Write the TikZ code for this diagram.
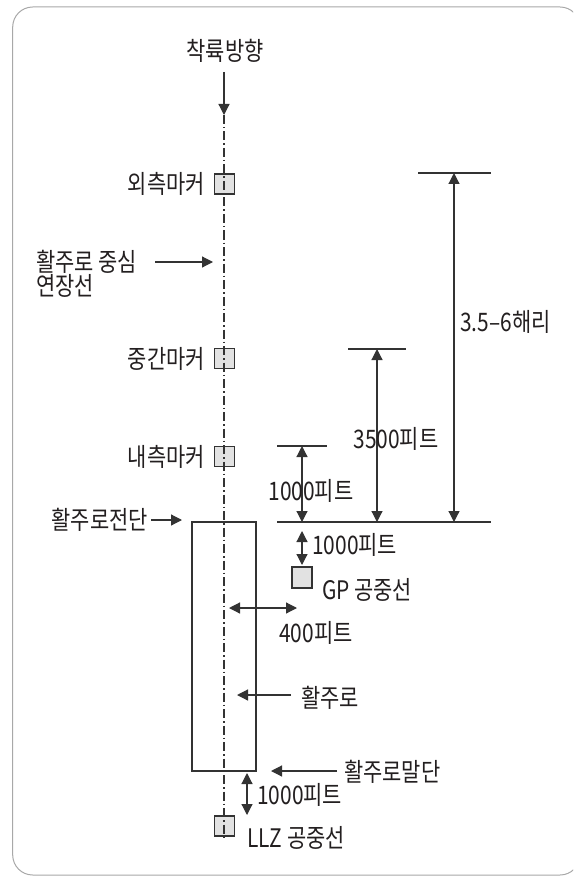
\documentclass[tikz,border=0pt]{standalone}
\usepackage{fontspec}
\setmainfont{Noto Sans CJK KR}[FakeStretch=0.82]
\usetikzlibrary{arrows.meta}
\definecolor{ink}{HTML}{231F20}
\definecolor{ln}{HTML}{333333}
\definecolor{framec}{HTML}{A8A8A8}
\definecolor{mfill}{HTML}{E2E2E2}
\begin{document}
\begin{tikzpicture}[x=1pt,y=-1pt,
  lbl/.style={inner sep=0pt, text=ink, font=\fontsize{25.5}{28}\selectfont},
  mk/.style={draw=ln, fill=mfill, line width=1.1pt, minimum width=20pt, minimum height=20pt, inner sep=0pt},
  arr/.style={draw=ln, line width=1.2pt, -{Triangle[length=11pt,width=11pt]}},
  darr/.style={draw=ln, line width=1.2pt, {Triangle[length=11pt,width=11pt]}-{Triangle[length=11pt,width=11pt]}},
  bar/.style={draw=ln, line width=1.3pt},
  cline/.style={draw=ln, line width=1.2pt, dash pattern=on 9pt off 3pt on 1.5pt off 3pt}]
\useasboundingbox (0,0) rectangle (573,877);
\begin{scope}
\clip (0,0) rectangle (573,877);
\draw[framec, line width=1pt, rounded corners=20pt] (12.7,7) rectangle (580,875);
\end{scope}

% landing direction
\node[lbl] (dir) at (225,51) {착륙방향};
\coordinate (dirS) at (224,72);
\coordinate (clT) at (224,115);
\coordinate (clB) at (224,837);
\draw[arr] (dirS) -- (clT);

% markers
\node[mk] (om) at (224.5,184) {};
\node[lbl, anchor=east] (omL) at (205,184) {외측마커};
\node[mk] (mm) at (224.5,358.5) {};
\node[lbl, anchor=east] (mmL) at (205,358.5) {중간마커};
\node[mk] (im) at (224.5,456.5) {};
\node[lbl, anchor=east] (imL) at (205,456.5) {내측마커};
\node[mk] (llz) at (224.5,826) {};
\node[lbl, anchor=west] (llzL) at (247,838) {LLZ 공중선};

% runway
\node[draw=ln, line width=1.1pt, minimum width=64pt, minimum height=249pt, inner sep=0pt] (rwy) at (224,646.5) {};

% centre line
\draw[cline] (clT) -- (clB);

% extended centre line label
\node[lbl, anchor=west] (ext1) at (36,262) {활주로 중심};
\node[lbl, anchor=west] (ext2) at (36,286) {연장선};
\coordinate (extS) at (155,262);
\coordinate (extE) at (213,262);
\draw[arr] (extS) -- (extE);

% threshold
\node[lbl, anchor=east] (thrL) at (148,520) {활주로전단};
\coordinate (thrS) at (151,520);
\coordinate (thrE) at (182,520);
\draw[arr] (thrS) -- (thrE);

% dimension lines
\coordinate (baseL) at (277,522);
\coordinate (baseR) at (491,522);
\draw[bar] (baseL) -- (baseR);

\coordinate (b1L) at (277,446);
\coordinate (b1R) at (327,446);
\draw[bar] (b1L) -- (b1R);
\coordinate (a1T) at (302,446);
\coordinate (a1B) at (302,522);
\draw[darr] (a1T) -- (a1B);
\node[lbl] (d1) at (311,491) {1000피트};

\coordinate (b2L) at (348,349);
\coordinate (b2R) at (406,349);
\draw[bar] (b2L) -- (b2R);
\coordinate (a2T) at (377,349);
\coordinate (a2B) at (377,522);
\draw[darr] (a2T) -- (a2B);
\node[lbl] (d2) at (396,439) {3500피트};

\coordinate (b3L) at (418,173);
\coordinate (b3R) at (491,173);
\draw[bar] (b3L) -- (b3R);
\coordinate (a3T) at (454,173);
\coordinate (a3B) at (454,522);
\draw[darr] (a3T) -- (a3B);
\node[lbl, anchor=west] (d3) at (460,322) {3.5–6해리};

% GP antenna
\coordinate (gT) at (302,531);
\coordinate (gB) at (302,565);
\draw[darr] (gT) -- (gB);
\node[lbl, anchor=west] (gpd) at (312,545) {1000피트};
\node[mk, minimum height=21pt] (gp) at (302,577.5) {};
\node[lbl, anchor=west] (gpL) at (322,590) {GP 공중선};

% 400 ft
\coordinate (wL) at (229,608);
\coordinate (wR) at (297,608);
\draw[darr] (wL) -- (wR);
\node[lbl, anchor=west] (wd) at (279,633) {400피트};

% runway label
\coordinate (rS) at (291,695);
\coordinate (rE) at (237,695);
\draw[arr] (rS) -- (rE);
\node[lbl, anchor=west] (rL) at (301,698) {활주로};

% runway end
\coordinate (eS) at (337,771);
\coordinate (eE) at (271,771);
\draw[arr] (eS) -- (eE);
\node[lbl, anchor=west] (eL) at (344,772) {활주로말단};

% LLZ distance
\coordinate (lT) at (247,773);
\coordinate (lB) at (247,815);
\draw[darr] (lT) -- (lB);
\node[lbl, anchor=west] (ld) at (257,795) {1000피트};
\end{tikzpicture}
\end{document}
